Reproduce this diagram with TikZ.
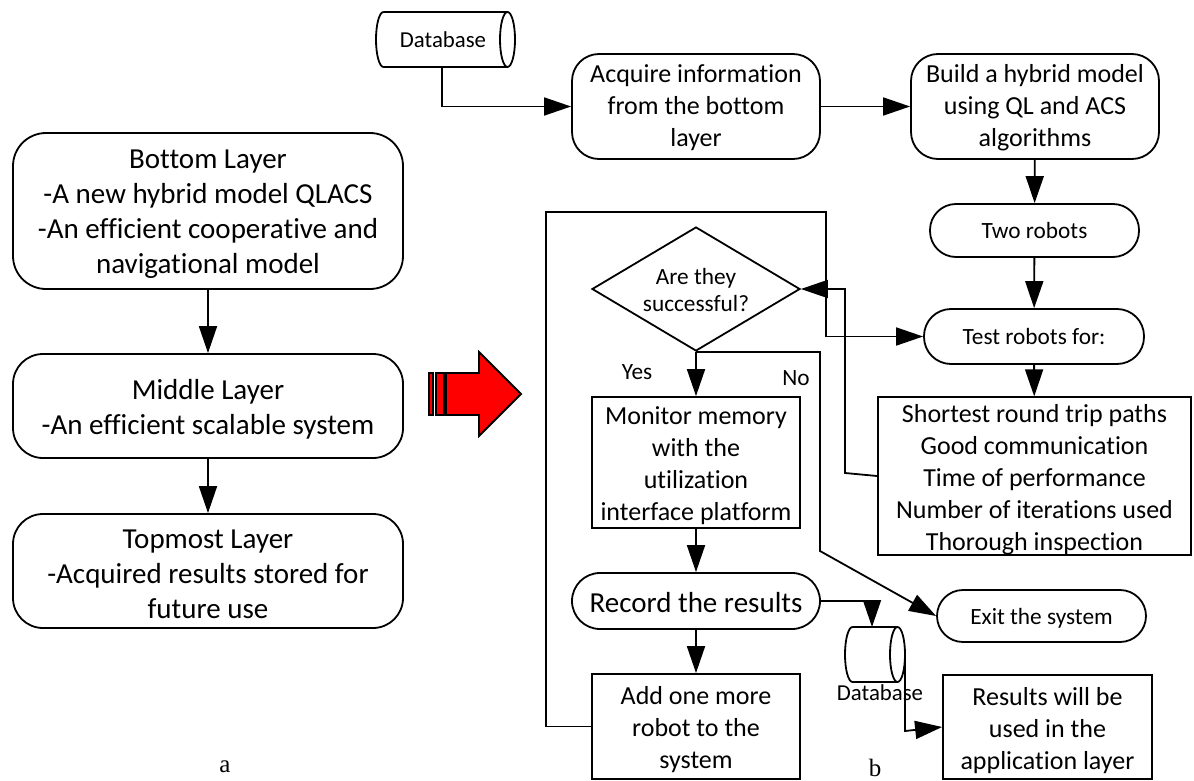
\documentclass[tikz,border=0pt]{standalone}
\usepackage{fontspec}
\setmainfont[Ligatures=NoCommon]{Carlito}
\newfontfamily\labelfont{Liberation Serif}
\usetikzlibrary{arrows.meta,shapes.geometric}
\newcommand{\pushtext}[1]{\rule{0pt}{#1pt}}
\newcommand{\dbdraw}[1]{
    \draw ([xshift=7.5pt]#1.north west) -- ([xshift=-7.5pt]#1.north east)
        arc[x radius=7.5pt, y radius=27.5pt, start angle=90, end angle=-90]
        -- ([xshift=7.5pt]#1.south west)
        arc[x radius=7.5pt, y radius=27.5pt, start angle=270, end angle=90];
    \draw ([xshift=-7.5pt]#1.north east)
        arc[x radius=7.5pt, y radius=27.5pt, start angle=90, end angle=270];
}
\tikzset{
    arr/.style={-{Triangle[length=27pt,width=18pt]}},
    big/.style={font=\fontsize{29}{35}\selectfont},
    mid/.style={font=\fontsize{26}{32}\selectfont},
    small/.style={font=\fontsize{23.3}{27.5}\selectfont},
    tiny/.style={font=\fontsize{22.8}{27}\selectfont},
    roundbox/.style={draw, align=center, inner sep=0pt, rounded corners=#1},
    rectbox/.style={draw, align=center, inner sep=0pt, mid},
    database/.style={inner sep=0pt, outer sep=0pt, tiny, minimum height=55pt},
}
\begin{document}
\begin{tikzpicture}[x=1pt, y=-1pt, line width=1.8pt]
    \useasboundingbox (0,0) rectangle (1194,781);

    % Layers on the left
    \node[roundbox=33pt, big, minimum width=390pt, minimum height=156pt] (bottom) at (208,211) {\pushtext{25}Bottom Layer\\-A new hybrid model QLACS\\-An efficient cooperative and\\navigational model};
    \node[roundbox=30pt, big, minimum width=390pt, minimum height=104pt] (middle) at (208,406) {\pushtext{27}Middle Layer\\-An efficient scalable system};
    \node[roundbox=30pt, big, minimum width=390pt, minimum height=114pt] (topmost) at (208,571) {\pushtext{26}Topmost Layer\\-Acquired results stored for\\future use};
    \draw[arr] (bottom) -- (middle);
    \draw[arr] (middle) -- (topmost);
    \node[font=\labelfont\fontsize{25}{28}\selectfont] (labela) at (225,767) {a};

    % Red arrow
    \draw[fill=red] (446,373) -- (479,373) -- (479,352) -- (521,394) -- (479,436) -- (479,415) -- (446,415) -- cycle;
    \draw[fill=red] (436,373) rectangle (444,415);
    \draw[fill=red] (429,373) rectangle (433,415);

    % First row
    \node[database, minimum width=139pt] (dbtop) at (445.5,39.5) {\hspace*{-5pt}Database};
    \dbdraw{dbtop}
    \node[roundbox=27pt, mid, minimum width=248pt, minimum height=105pt] (acquire) at (696,106.5) {\pushtext{20}Acquire information\\from the bottom\\layer};
    \node[roundbox=27pt, mid, minimum width=248pt, minimum height=105pt] (build) at (1035,106.5) {\pushtext{20}Build a hybrid model\\using QL and ACS\\algorithms};
    \coordinate (dbcorner) at (442,106.5);
    \draw[arr] ([xshift=-3.5pt]dbtop.south) -- (dbcorner) -- (acquire);
    \draw[arr] (acquire) -- (build);

    % Test column
    \node[roundbox=26pt, small, minimum width=209pt, minimum height=53pt] (tworobots) at (1034.5,230.5) {Two robots};
    \node[roundbox=27pt, small, minimum width=220pt, minimum height=55pt] (testrobots) at (1034,336.5) {Test robots for:};
    \node[rectbox, minimum width=313pt, minimum height=156pt] (criteria) at (1034.5,476) {\pushtext{25}Shortest round trip paths\\Good communication\\Time of performance\\Number of iterations used\\Thorough inspection};
    \draw[arr] (build) -- (tworobots);
    \draw[arr] (tworobots) -- (testrobots);
    \draw[arr] (testrobots) -- (criteria);

    % Decision column
    \node[draw, diamond, aspect=1.68, inner sep=0pt, small, align=center, minimum width=208pt, minimum height=124pt] (success) at (696,289) {\pushtext{18}Are they\\successful?};
    \node[rectbox, minimum width=208pt, minimum height=131pt] (monitor) at (696,462.5) {\pushtext{25}Monitor memory\\with the\\utilization\\interface platform};
    \node[roundbox=28pt, big, minimum width=248pt, minimum height=56pt] (record) at (696,601) {\pushtext{24}Record the results};
    \node[rectbox, minimum width=208pt, minimum height=105pt] (addrobot) at (696,726.5) {\pushtext{25}Add one more\\robot to the\\system};
    \node[small] (yes) at (637,372) {Yes};
    \node[small] (no) at (796,378) {No};
    \draw[arr] (success) -- (monitor);
    \draw[arr] (monitor) -- (record);
    \draw[arr] (record) -- (addrobot);

    % Exits
    \node[roundbox=26pt, small, minimum width=209pt, minimum height=52pt] (exitsys) at (1041.5,616) {\pushtext{21}Exit the system};
    \node[rectbox, minimum width=209pt, minimum height=104pt] (results) at (1047.5,727) {\pushtext{25}Results will be\\used in the\\application layer};
    \node[database, minimum width=60pt] (dbbottom) at (875,654.5) {};
    \dbdraw{dbbottom}
    \node[tiny] (dblabel) at (880,693) {Database};
    \node[font=\labelfont\fontsize{25}{28}\selectfont] (labelb) at (875,768) {b};

    % Long connectors
    \coordinate (looptop) at (546,212);
    \coordinate (loopend) at (826,212);
    \coordinate (backbend) at (845,473);
    \coordinate (nobend) at (820,551);
    \coordinate (dbbend) at (905,731);
    \draw[arr] (addrobot.west) -| (looptop) -- (loopend) |- (testrobots.west);
    \draw[arr] (criteria.west) -- (backbend) |- (success.east);
    \draw[arr] (success.south) -| (nobend) -- (exitsys.west);
    \draw[arr] (record.east) -| ([xshift=-3pt]dbbottom.north);
    \draw[arr] (dbbottom.east) -- (dbbend) -- (results.west);
\end{tikzpicture}
\end{document}
